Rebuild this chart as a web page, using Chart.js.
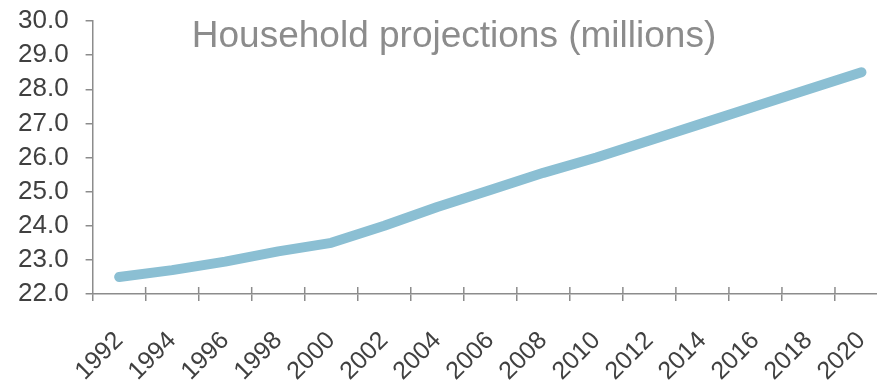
<!DOCTYPE html>
<html>
<head>
<meta charset="utf-8">
<script src="https://cdn.jsdelivr.net/npm/chart.js@4/dist/chart.umd.min.js"></script>
<style>
    html, body {margin: 0; padding: 0; background: #fff; overflow: hidden;}
    #wrap {width: 888px; height: 380px;}
</style>
</head>
<body>
<div id="wrap"><canvas id="households" width="888" height="380"></canvas></div>
<script>
    // Данные
    const years = ['1992', '1994', '1996', '1998', '2000', '2002', '2004', '2006',
        '2008', '2010', '2012', '2014', '2016', '2018', '2020']
    const households = [22.5, 22.7, 22.95, 23.25, 23.5, 24.0, 24.55, 25.05,
        25.55, 26.0, 26.5, 27.0, 27.5, 28.0, 28.5]
    const chartTitle = 'Household projections (millions)'

    const axisColor = '#8c8c8c'
    const labelColor = '#404040'

    // Заголовок внутри области графика
    const titleInside = {
        id: 'titleInside',
        afterDraw(chart) {
            const ctx = chart.ctx
            ctx.save()
            ctx.font = '37px "Liberation Sans", Arial, sans-serif'
            ctx.fillStyle = '#8c8c8c'
            ctx.textAlign = 'center'
            ctx.textBaseline = 'alphabetic'
            ctx.fillText(chartTitle, 454, 47)
            ctx.restore()
        }
    }

    // Засечки оси X немного заходят внутрь области
    const innerTicks = {
        id: 'innerTicks',
        afterDraw(chart) {
            const ctx = chart.ctx
            const x = chart.scales.x
            const bottom = chart.chartArea.bottom
            ctx.save()
            ctx.strokeStyle = axisColor
            ctx.lineWidth = 1.5
            for (let i = 1; i <= years.length; i++) {
                const px = x.getPixelForValue(i - 0.5)
                ctx.beginPath()
                ctx.moveTo(px, bottom)
                ctx.lineTo(px, bottom - 7)
                ctx.stroke()
            }
            ctx.restore()
        }
    }

    const ctx = document.getElementById('households').getContext('2d')
    new Chart(ctx, {
        type: 'line',
        data: {
            labels: years,
            datasets: [{
                label: chartTitle,
                data: households,
                borderColor: '#8bbfd3',
                backgroundColor: '#8bbfd3',
                borderWidth: 10,
                borderCapStyle: 'round',
                borderJoinStyle: 'round',
                pointRadius: 0,
                tension: 0,
                fill: false
            }]
        },
        options: {
            responsive: false,
            animation: false,
            layout: {padding: {left: 1, top: 21, right: 0, bottom: 0}},
            plugins: {
                legend: {display: false},
                tooltip: {enabled: false}
            },
            scales: {
                x: {
                    offset: true,
                    afterFit: scale => {
                        scale.height = 86
                        scale.paddingLeft = 0
                        scale.paddingRight = 0
                    },
                    grid: {
                        offset: true,
                        drawOnChartArea: false,
                        drawTicks: true,
                        tickLength: 7,
                        color: axisColor,
                        lineWidth: 1.5
                    },
                    border: {color: axisColor, width: 1.5},
                    ticks: {
                        color: labelColor,
                        font: {family: '"Liberation Sans", Arial, sans-serif', size: 25},
                        maxRotation: 45,
                        minRotation: 45,
                        autoSkip: false,
                        padding: 25
                    }
                },
                y: {
                    min: 22,
                    max: 30,
                    afterFit: scale => {
                        scale.paddingTop = 0
                        scale.paddingBottom = 0
                    },
                    grid: {
                        drawOnChartArea: false,
                        drawTicks: true,
                        tickLength: 7,
                        color: axisColor,
                        lineWidth: 1.5
                    },
                    border: {color: axisColor, width: 1.5},
                    ticks: {
                        stepSize: 1,
                        autoSkip: false,
                        color: labelColor,
                        font: {family: '"Liberation Sans", Arial, sans-serif', size: 26},
                        padding: 17,
                        callback: v => v.toFixed(1)
                    }
                }
            }
        },
        plugins: [titleInside, innerTicks]
    })
</script>
</body>
</html>
